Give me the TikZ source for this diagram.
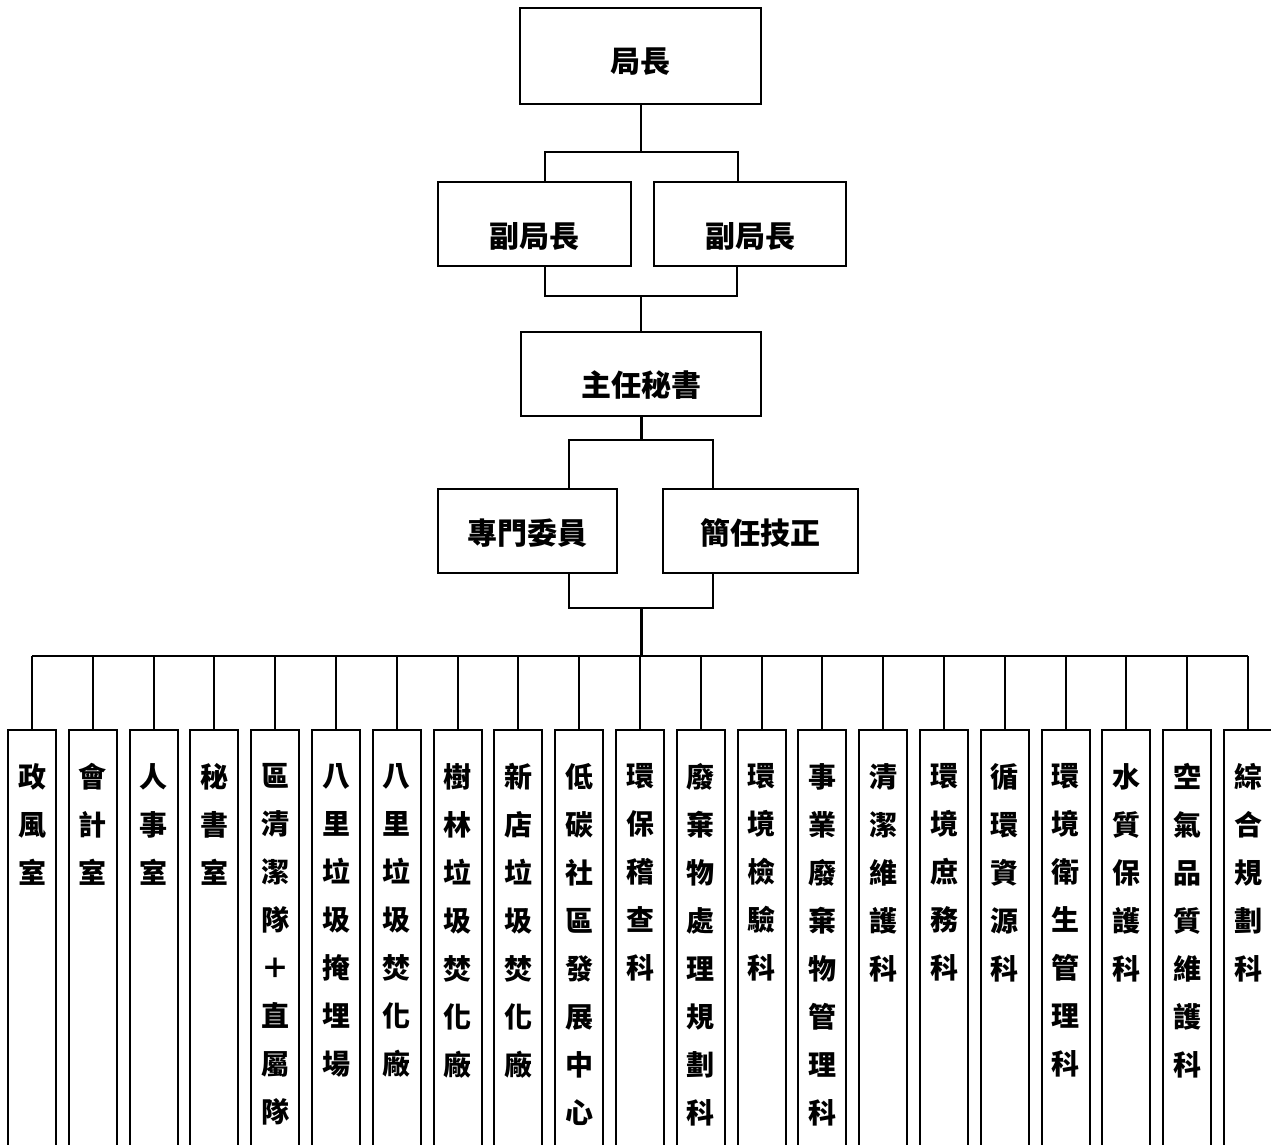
\documentclass[tikz,border=0pt]{standalone}
\usepackage{fontspec}
\newfontfamily\cjk{Noto Sans CJK TC}
\usetikzlibrary{positioning}
\tikzset{
  unit/.style={draw, line width=2pt, inner sep=0pt, font=\cjk\bfseries\fontsize{30}{36}\selectfont},
  low/.style={text height=#1, text depth=0pt},
  dept/.style={draw, line width=2pt, anchor=north, minimum width=48pt, minimum height=480pt},
  depttext/.style={inner sep=0pt, align=center, font=\cjk\bfseries\fontsize{28}{48}\selectfont},
  link/.style={line width=2pt},
  trunk/.style={line width=3pt},
}

\begin{document}
\begin{tikzpicture}[x=1pt, y=-1pt]
  \useasboundingbox (0,0) rectangle (1271,1144);
  % director and deputies
  \node(ju) [unit, low=33pt, minimum width=241pt, minimum height=96pt] at (640.5,56) {局長};
  \node(fu1) [unit, low=47pt, minimum width=193pt, minimum height=84pt] at (534.5,224) {副局長};
  \node(fu2) [unit, low=47pt, minimum width=192pt, minimum height=84pt, right=21pt of fu1] {副局長};
  \node(zhu) [unit, low=45pt, minimum width=240pt, minimum height=84pt] at (641,374) {主任秘書};
  \node(zm) [unit, low=27pt, minimum width=179pt, minimum height=84pt] at (527.5,531) {專門委員};
  \node(jr) [unit, low=27pt, minimum width=195pt, minimum height=84pt, right=44pt of zm] {簡任技正};

  \coordinate (b1l) at (545,152); \coordinate (b1r) at (738,152);
  \draw[link] (ju.south) -- (ju.south |- b1l);
  \draw[link] (b1l |- fu1.north) -- (b1l) -- (b1r) -- (b1r |- fu2.north);
  \coordinate (b2l) at (545,296); \coordinate (b2r) at (737,296);
  \draw[link] (b2l |- fu1.south) -- (b2l) -- (b2r) -- (b2r |- fu2.south);
  \draw[link] (zhu.north |- b2l) -- (zhu.north);
  \coordinate (b3l) at (569,440); \coordinate (b3r) at (713,440);
  \draw[trunk] (zhu.south) -- (zhu.south |- b3l);
  \draw[link] (b3l |- zm.north) -- (b3l) -- (b3r) -- (b3r |- jr.north);
  \coordinate (b4l) at (569,608); \coordinate (b4r) at (713,608);
  \draw[link] (b4l |- zm.south) -- (b4l) -- (b4r) -- (b4r |- jr.south);
  \coordinate (bus) at (641,656);
  \draw[trunk] (zhu.south |- b4l) -- (bus);

  % departments
  \foreach \lbl [count=\i] in {{政\\風\\室}, {會\\計\\室}, {人\\事\\室}, {秘\\書\\室},
      {區\\清\\潔\\隊\\＋\\直\\屬\\隊}, {八\\里\\垃\\圾\\掩\\埋\\場}, {八\\里\\垃\\圾\\焚\\化\\廠},
      {樹\\林\\垃\\圾\\焚\\化\\廠}, {新\\店\\垃\\圾\\焚\\化\\廠}, {低\\碳\\社\\區\\發\\展\\中\\心},
      {環\\保\\稽\\查\\科}, {廢\\棄\\物\\處\\理\\規\\劃\\科}, {環\\境\\檢\\驗\\科},
      {事\\業\\廢\\棄\\物\\管\\理\\科}, {清\\潔\\維\\護\\科}, {環\\境\\庶\\務\\科},
      {循\\環\\資\\源\\科}, {環\\境\\衛\\生\\管\\理\\科}, {水\\質\\保\\護\\科},
      {空\\氣\\品\\質\\維\\護\\科}, {綜\\合\\規\\劃\\科}} {
    \node(d\i) [dept] at ({32+60.8*(\i-1)},729) {};
    \node [depttext, below=34pt of d\i.north] {\lbl};
    \draw[link] (d\i.north) -- (d\i.north |- bus);
  }
  \draw[link] (d1.north |- bus) -- (d21.north |- bus);
\end{tikzpicture}
\end{document}
